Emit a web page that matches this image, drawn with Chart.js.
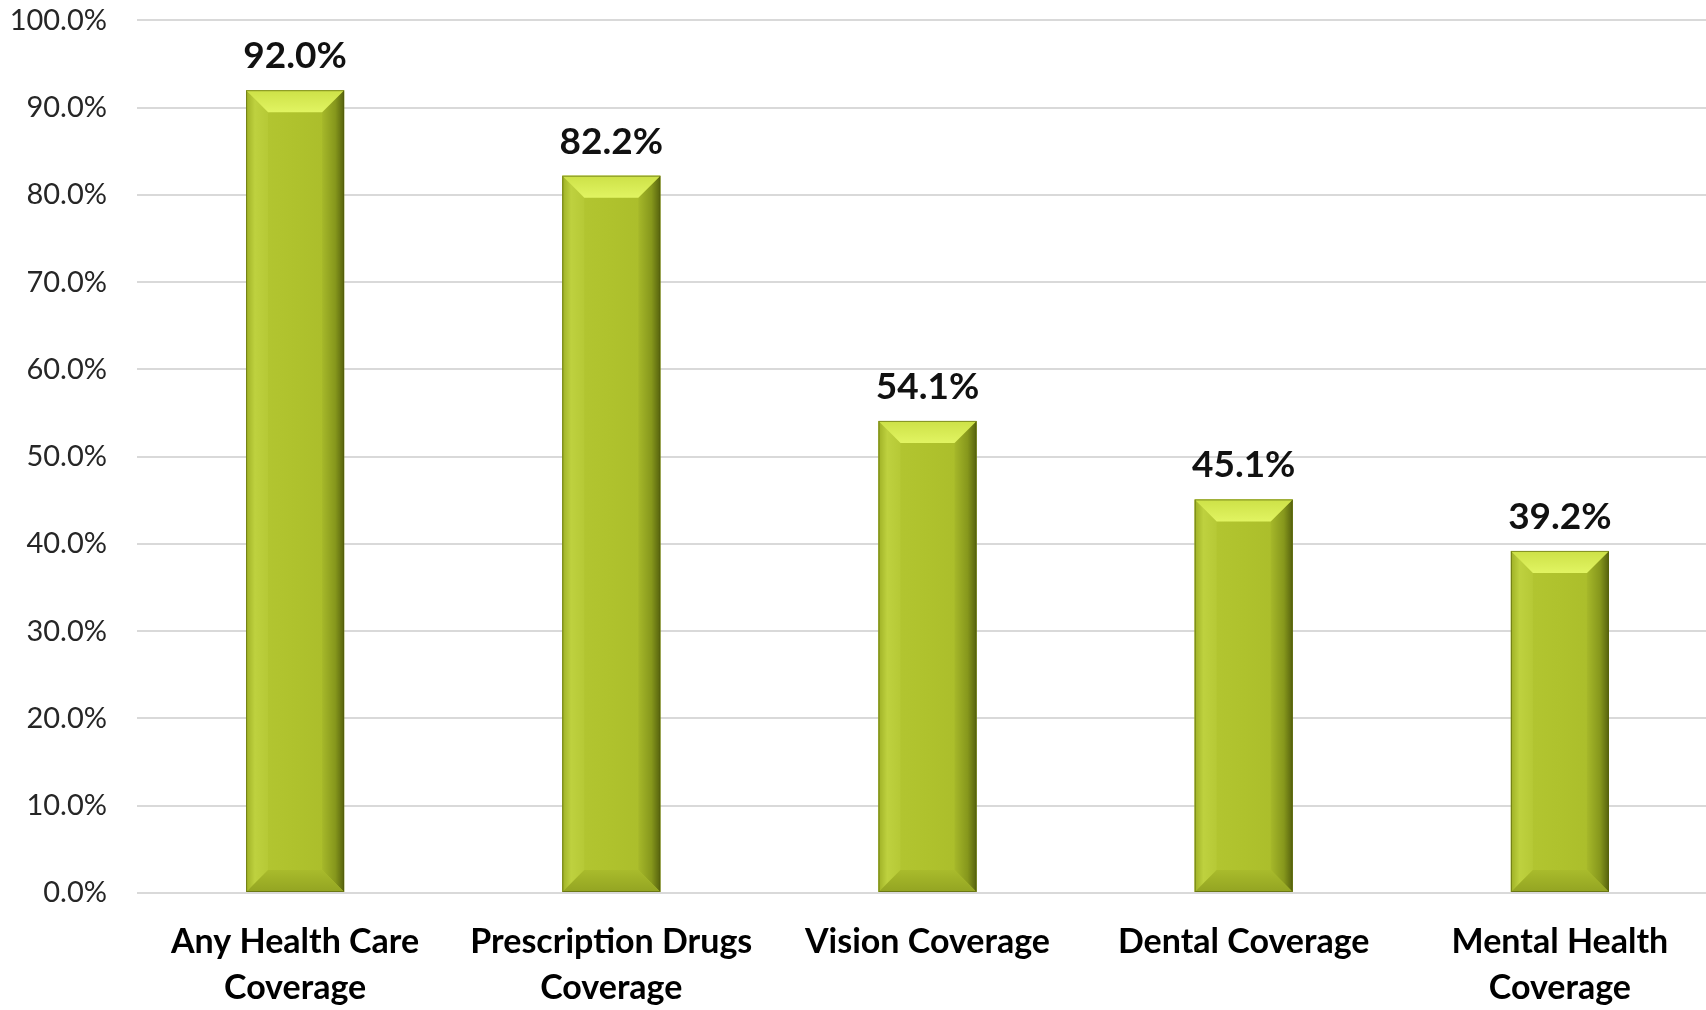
<!DOCTYPE html>
<html>
<head>
<meta charset="utf-8">
<script src="https://cdn.jsdelivr.net/npm/chart.js@4.4.1/dist/chart.umd.min.js"></script>
<style>
  html, body { margin: 0; padding: 0; background: #fff; overflow: hidden; }
  #wrap { position: relative; top: -27px; width: 1718px; height: 1037px; }
</style>
</head>
<body>
<div id="wrap"><canvas id="coverageChart"></canvas></div>
<script>
// data
var categories = [
    ["Any Health Care", "Coverage"],
    ["Prescription Drugs", "Coverage"],
    ["Vision Coverage"],
    ["Dental Coverage"],
    ["Mental Health", "Coverage"]
];
var coverageValues = [92.0, 82.2, 54.1, 45.1, 39.2];
var yTicks = [0, 10, 20, 30, 40, 50, 60, 70, 80, 90, 100];

var FONT = "Lato, 'Open Sans', sans-serif";

// draws the bevelled look on top of each bar, using the bar element geometry
var bevelPlugin = {
    id: "bevel",
    afterDatasetsDraw: function (chart) {
        var ctx = chart.ctx;
        var meta = chart.getDatasetMeta(0);
        meta.data.forEach(function (bar) {
            var p = bar.getProps(["x", "y", "base", "width"], true);
            var l = p.x - p.width / 2, r = p.x + p.width / 2;
            var t = p.y, b = p.base;
            var d = 22;
            ctx.save();

            // face
            var face = ctx.createLinearGradient(l, 0, r, 0);
            face.addColorStop(0, "#b4c733");
            face.addColorStop(0.5, "#afc22d");
            face.addColorStop(1, "#a9bb2a");
            ctx.fillStyle = face;
            ctx.fillRect(l, t, r - l, b - t);

            // left bevel
            var g = ctx.createLinearGradient(l, 0, l + d, 0);
            g.addColorStop(0, "#9fb126");
            g.addColorStop(0.4, "#bed13f");
            g.addColorStop(1, "#b6c936");
            ctx.fillStyle = g;
            ctx.beginPath();
            ctx.moveTo(l, t); ctx.lineTo(l + d, t + d); ctx.lineTo(l + d, b - d); ctx.lineTo(l, b);
            ctx.closePath(); ctx.fill();

            // right bevel
            g = ctx.createLinearGradient(r - d, 0, r, 0);
            g.addColorStop(0, "#a6b82a");
            g.addColorStop(0.6, "#86971c");
            g.addColorStop(1, "#56620e");
            ctx.fillStyle = g;
            ctx.beginPath();
            ctx.moveTo(r, t); ctx.lineTo(r - d, t + d); ctx.lineTo(r - d, b - d); ctx.lineTo(r, b);
            ctx.closePath(); ctx.fill();

            // bottom bevel
            g = ctx.createLinearGradient(0, b - d, 0, b);
            g.addColorStop(0, "#a9bb2c");
            g.addColorStop(1, "#93a422");
            ctx.fillStyle = g;
            ctx.beginPath();
            ctx.moveTo(l, b); ctx.lineTo(l + d, b - d); ctx.lineTo(r - d, b - d); ctx.lineTo(r, b);
            ctx.closePath(); ctx.fill();

            // top bevel
            g = ctx.createLinearGradient(0, t, 0, t + d);
            g.addColorStop(0, "#cde147");
            g.addColorStop(1, "#e1f462");
            ctx.fillStyle = g;
            ctx.beginPath();
            ctx.moveTo(l, t); ctx.lineTo(r, t); ctx.lineTo(r - d, t + d); ctx.lineTo(l + d, t + d);
            ctx.closePath(); ctx.fill();

            ctx.strokeStyle = "rgba(80, 92, 10, 0.6)";
            ctx.lineWidth = 1;
            ctx.strokeRect(l + 0.5, t + 0.5, r - l - 1, b - t - 1);
            ctx.restore();
        });
    }
};

// value labels above the bars
var valueLabelPlugin = {
    id: "valueLabels",
    afterDatasetsDraw: function (chart) {
        var ctx = chart.ctx;
        var meta = chart.getDatasetMeta(0);
        ctx.save();
        ctx.font = "bold 37px " + FONT;
        ctx.fillStyle = "#111";
        ctx.textAlign = "center";
        ctx.textBaseline = "alphabetic";
        meta.data.forEach(function (bar, i) {
            ctx.fillText(coverageValues[i].toFixed(1) + "%", bar.x, bar.y - 22);
        });
        ctx.restore();
    }
};

var canvasElement = document.getElementById("coverageChart");
var config = {
    type: "bar",
    data: {
        labels: categories,
        datasets: [{
            data: coverageValues,
            backgroundColor: "#afc22d",
            categoryPercentage: 1,
            barPercentage: 0.31
        }]
    },
    options: {
        responsive: true,
        maintainAspectRatio: false,
        animation: false,
        layout: { padding: { top: 0, left: 0, right: 0, bottom: 0 } },
        plugins: {
            legend: { display: false },
            tooltip: { enabled: false }
        },
        scales: {
            x: {
                grid: { display: false, drawTicks: false },
                border: { display: false },
                afterFit: function (axis) { axis.height = 117; },
                ticks: {
                    color: "#000",
                    padding: 26,
                    maxRotation: 0,
                    autoSkip: false,
                    font: { family: FONT, size: 34, weight: "bold", lineHeight: 1.35 }
                }
            },
            y: {
                min: 0,
                max: 100,
                afterBuildTicks: function (axis) {
                    axis.ticks = yTicks.map(function (v) { return { value: v }; });
                },
                afterFit: function (axis) { axis.width = 137; },
                grid: { color: "#d9d9d9", lineWidth: 2, drawTicks: false },
                border: { display: false },
                ticks: {
                    color: "#262626",
                    padding: 30,
                    font: { family: FONT, size: 29 },
                    callback: function (v) { return v.toFixed(1) + "%"; }
                }
            }
        }
    },
    plugins: [bevelPlugin, valueLabelPlugin]
};

var coverageChart = new Chart(canvasElement, config);
</script>
</body>
</html>
